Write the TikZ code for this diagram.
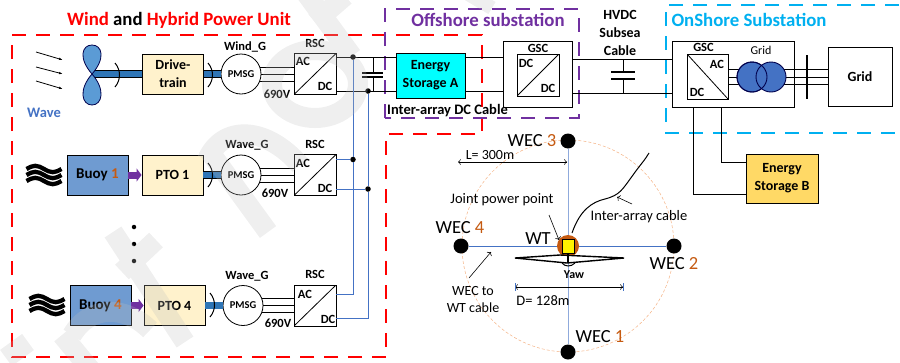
\documentclass[tikz,border=0pt]{standalone}
\usepackage{fontspec}
\setmainfont{Carlito}
\usetikzlibrary{positioning,arrows.meta,calc}
\definecolor{wmark}{HTML}{BFBFBF}
\definecolor{unitred}{HTML}{FF0000}
\definecolor{subpurple}{HTML}{7030A0}
\definecolor{subcyan}{HTML}{00B0F0}
\definecolor{numorange}{HTML}{C55A11}
\definecolor{cablblue}{HTML}{4472C4}
\definecolor{shaftblue}{HTML}{2E75B6}
\definecolor{bladeblue}{HTML}{5B9BD5}
\definecolor{buoyblue}{HTML}{6F9BD1}
\definecolor{ptocream}{HTML}{FFF2CC}
\definecolor{storgold}{HTML}{FFD966}
\definecolor{storcyan}{HTML}{00FFFF}
\definecolor{orbitpeach}{HTML}{F4B183}
\newcommand{\num}[1]{\textcolor{numorange}{#1}}
\begin{document}
\begin{tikzpicture}[x=1pt,y=-1pt,on grid,node distance=20pt,
    lab/.style={font=\fontsize{12.5}{14}\selectfont\bfseries,inner sep=0pt},
    boxlab/.style={font=\fontsize{14}{18}\selectfont\bfseries,align=center},
    big/.style={font=\fontsize{18.8}{20}\selectfont\bfseries,inner sep=0pt},
    wec/.style={font=\fontsize{18.5}{20}\selectfont,inner sep=0pt},
    note/.style={font=\fontsize{14.5}{17}\selectfont,inner sep=0pt,align=center},
    buoy/.style={draw,line width=0.9pt,fill=buoyblue,minimum width=61pt,minimum height=40pt,boxlab},
    pto/.style={draw,line width=0.9pt,fill=ptocream,minimum width=61pt,minimum height=40pt,boxlab},
    pmsg/.style={draw,circle,line width=0.8pt,fill=white,minimum size=40pt,inner sep=0pt,font=\fontsize{10.5}{11}\selectfont\bfseries},
    conv/.style={draw,line width=0.8pt,fill=white,minimum width=42pt,minimum height=41pt},
    convup/.style={conv,path picture={\draw[line width=0.8pt] (path picture bounding box.south west) -- (path picture bounding box.north east);}},
    convdown/.style={conv,path picture={\draw[line width=0.8pt] (path picture bounding box.north west) -- (path picture bounding box.south east);}},
    outer/.style={draw,line width=0.9pt,fill=white,minimum height=66pt},
    jdot/.style={circle,fill=black,minimum size=5.5pt,inner sep=0pt},
    moredot/.style={circle,fill=black,minimum size=4.5pt,inner sep=0pt},
    wecdot/.style={circle,fill=black,minimum size=15pt,inner sep=0pt},
    shaft/.style={draw=black,line width=0.7pt,double=shaftblue,double distance=6.5pt},
    push/.style={draw=subpurple,line width=7pt,-{Triangle[length=5pt,width=13pt]}},
    bus/.style={line width=0.8pt},
    blue cable/.style={draw=cablblue,line width=0.9pt},
    wind/.style={line width=0.8pt,-{Latex[length=4pt,width=2.5pt]}},
    dim/.style={<->,line width=0.5pt},
    blade/.style={draw=black!70!blue,line width=0.8pt,fill=bladeblue},
    transf/.style={draw=black!70!blue,circle,line width=0.9pt,fill=cablblue,minimum size=30pt,inner sep=0pt},
    wm/.style={draw=wmark,line width=20pt},
    waves/.pic={\foreach \yy in {-6,0,6}
        \draw[line width=4.3pt] (-17.5,\yy) sin (-8.75,\yy-3.2) cos (0,\yy) sin (8.75,\yy+3.2) cos (17.5,\yy);},
    turn/.pic={\draw[line width=1pt] (-5,-12) .. controls (1,-5) and (1,5) .. (-5,12);}
]
\useasboundingbox (0,0) rectangle (900,362);
% dashed regions
\draw[unitred,line width=1.5pt,dash pattern=on 14pt off 10pt]
    (12,35) -- (482,35) -- (482,134) -- (386,134) -- (386,357) -- (12,357) -- cycle;
\draw[subpurple,line width=1.3pt,dash pattern=on 14pt off 10pt]
    (385,118) -- (385,9) -- (579,9) -- (579,118) -- cycle;
\draw[subcyan,line width=1.5pt,dash pattern=on 14pt off 10pt]
    (899,5) -- (666,5) -- (666,133) -- (899,133);
\node[big] (unittitle) at (179,20) {\textcolor{unitred}{Wind} and \textcolor{unitred}{Hybrid Power Unit}};
\node[big,text=subpurple] (offtitle) at (488,20) {Offshore substation};
\node[big,text=subcyan] (ontitle) at (749,20) {OnShore Substation};
\node[lab,font=\fontsize{14.5}{16}\selectfont\bfseries,text=cablblue] (wavelab) at (44,113) {Wave};

% wind row
\coordinate (hub) at (92,74);
\node[pto,minimum height=40pt] (drive) at (173,74) {Drive-\\train};
\node[pmsg,right=68pt of drive] (windg) {PMSG};
\node[convup,right=74pt of windg] (windrsc) {};
\draw[shaft] (hub) -- (drive);
\draw[shaft] (drive) -- (windg);
\draw[blade] (hub) .. controls (78,58) and (82,45) .. (92,45) .. controls (102,45) and (106,58) .. (hub);
\draw[blade] (hub) .. controls (78,90) and (82,105) .. (92,105) .. controls (102,105) and (106,90) .. (hub);
\draw[wind] (36,52) -- (63,60);
\draw[wind] (36,67) -- (63,74);
\draw[wind] (36,81) -- (63,89);
\pic at (120,75) {turn};
\pic at (213,75) {turn};
\node[lab,above right=27pt and 4pt of windg] (windname) {Wind\_G};
\node[lab,above=31pt of windrsc] (rsca) {RSC};
\node[lab,above left=12.5pt and 12pt of windrsc] (aca) {AC};
\node[lab,below right=12.5pt and 10pt of windrsc] (dca) {DC};
\node[lab,below left=20.5pt and 38pt of windrsc] (va) {690V};

% wave row 1
\pic at (44,175) {waves};
\node[buoy] (buoy1) at (97.5,175) {\fontsize{15}{18}\selectfont Buoy \num{1}};
\node[pto,right=75pt of buoy1] (pto1) {PTO 1};
\node[pmsg,right=68.5pt of pto1] (waveg1) {PMSG};
\node[convup,right=74pt of waveg1] (rsc1) {};
\draw[push] (buoy1) -- (pto1);
\draw[shaft] (pto1) -- (waveg1);
\pic at (213,175) {turn};
\node[lab,above right=30pt and 6pt of waveg1] (wname1) {Wave\_G};
\node[lab,above=31pt of rsc1] (rscb) {RSC};
\node[lab,above left=12pt and 12pt of rsc1] (acb) {AC};
\node[lab,below right=13.5pt and 10pt of rsc1] (dcb) {DC};
\node[lab,below left=18pt and 40pt of rsc1] (vb) {690V};

% dots
\node[moredot] (more1) at (134,227) {};
\node[moredot,below=17pt of more1] (more2) {};
\node[moredot,below=17pt of more2] (more3) {};

% wave row 4
\pic at (47,305) {waves};
\node[buoy] (buoy4) at (100.5,305.5) {\fontsize{15}{18}\selectfont Buoy \num{4}};
\node[pto,right=74pt of buoy4] (pto4) {PTO 4};
\node[pmsg,right=68.5pt of pto4] (waveg4) {PMSG};
\node[convup,right=72pt of waveg4] (rsc4) {};
\draw[push] (buoy4) -- (pto4);
\draw[shaft] (pto4) -- (waveg4);
\pic at (215,305) {turn};
\node[lab,above right=29pt and 4pt of waveg4] (wname4) {Wave\_G};
\node[lab,above=31pt of rsc4] (rscc) {RSC};
\node[lab,above left=11pt and 10pt of rsc4] (acc) {AC};
\node[lab,below right=14pt and 13pt of rsc4] (dcc) {DC};
\node[lab,below left=18pt and 37pt of rsc4] (vc) {690V};

% three phase lines
\foreach \gen/\conv in {windg/windrsc,waveg1/rsc1,waveg4/rsc4} {
    \draw[bus] (\gen.20) -- (\gen.20 -| \conv.west);
    \draw[bus] (\gen.east) -- (\gen.east -| \conv.west);
    \draw[bus] (\gen.-20) -- (\gen.-20 -| \conv.west);
}

% storage and converters
\node[draw,line width=1pt,fill=storcyan,minimum width=69pt,minimum height=45pt,boxlab] (storea) at (430.5,75.5) {Energy\\Storage A};
\node[outer,minimum width=69pt] (gscoff) at (537.5,74) {};
\node[convup,minimum width=42pt,minimum height=42pt,line width=1pt] (gscoffin) at (538,75) {};
\node[lab,above=27pt of gscoffin] (gscl) {GSC};
\node[lab,above left=12pt and 12pt of gscoffin] (dcl) {DC};
\node[lab,below right=13pt and 10pt of gscoffin] (dcm) {DC};
\node[boxlab,inner sep=0pt] (hvdc) at (620,33) {HVDC\\Subsea\\Cable};
\node[lab,font=\fontsize{14.5}{16}\selectfont\bfseries] (arraylab) at (447.5,111) {Inter-array DC Cable};

\node[outer,minimum width=122pt] (gscon) at (733,74) {};
\node[convdown,minimum width=41pt,minimum height=45pt] (gsconin) at (707.5,76.5) {};
\node[lab,above=29pt of gsconin,xshift=-4pt] (gscr) {GSC};
\node[lab,above right=12pt and 9.5pt of gsconin] (acr) {AC};
\node[lab,below left=15.5pt and 10.5pt of gsconin] (dcr) {DC};
\node[draw,line width=1pt,minimum width=64pt,minimum height=59pt,fill=white,boxlab] (grid) at (860,76.5) {Grid};
\node[lab,font=\fontsize{12}{13}\selectfont] (gridlab) at (761,50) {Grid};
\node[draw,line width=1pt,fill=storgold,minimum width=72pt,minimum height=49pt,boxlab] (storeb) at (782,178.5) {Energy\\Storage B};

% cables to storage A and HVDC
\coordinate (topa) at ($(storea.west)+(0,-18.5)$);
\coordinate (bota) at ($(storea.west)+(0,15.5)$);
\draw[bus] (windrsc.east |- topa) -- (topa);
\draw[bus] (windrsc.east |- bota) -- (bota);
\node[jdot] (ja) at (353,57) {};
\node[jdot] (jb) at (368,91) {};
\draw[bus] (373,57) -- (373,73);
\draw[bus] (373,77) -- (373,91);
\draw[line width=1.5pt] (362,73) -- (383,73);
\draw[line width=1.5pt] (362,77) -- (383,77);
\draw[bus] (storea.east |- topa) -- (gscoff.west |- topa);
\draw[bus] (storea.east |- bota) -- (gscoff.west |- bota);
\draw[bus] (572,59) -- (672,59);
\draw[bus] (572,93) -- (672,93);
\coordinate (capb) at (623,59);
\draw[bus] (capb) -- (623,72);
\draw[bus] (623,79) -- (623,93);
\draw[line width=1.5pt] (611,72) -- (635,72);
\draw[line width=1.5pt] (611,79) -- (635,79);

% blue collector cables
\node[jdot] (jc) at (353,159.5) {};
\node[jdot] (jd) at (368,189) {};
\draw[blue cable] (ja) -- (jc) -- (353,294) -- (rsc4.east |- 0,294);
\draw[blue cable] (jb) -- (jd) -- (368,318) -- (rsc4.east |- 0,318);
\draw[blue cable] (rsc1.east |- jc) -- (jc);
\draw[blue cable] (rsc1.east |- jd) -- (jd);

% transformer and grid
\foreach \yy in {69,77,84} \draw[bus] (gsconin.east |- 0,\yy) -- (grid.west |- 0,\yy);
\node[transf] (tra) at (752,77) {};
\node[transf] (trb) at (771,77) {};
\draw[draw=black!70!blue,line width=0.9pt] (tra) circle (15);
\draw[line width=1.6pt] (807,55) -- (807,99);
\draw[line width=0.9pt] (693,107) |- (storeb.west |- 0,194);
\draw[line width=0.9pt] (721,107) |- (storeb.west |- 0,162);

% array layout
\coordinate (jp) at (568,246);
\draw[orbitpeach,line width=0.5pt,densely dashed] (jp) circle (106);
\node[wecdot] (wec1) at (568,352) {};
\node[wecdot] (wec2) at (674,246) {};
\node[wecdot] (wec3) at (568,141) {};
\node[wecdot] (wec4) at (461,246) {};
\draw[cablblue!60,line width=1pt] (wec3) -- (wec1);
\draw[cablblue,line width=1pt] (wec4) -- (wec2);
\node[wec] (weclab1) at (600,337) {WEC \num{1}};
\node[wec] (weclab2) at (674,264) {WEC \num{2}};
\node[wec] (weclab3) at (532,141) {WEC \num{3}};
\node[wec] (weclab4) at (460,228) {WEC \num{4}};
\node[wec] (wtlab) at (538,239) {WT};
\node[circle,fill=numorange,minimum size=22pt,inner sep=0pt] (wthub) at (jp) {};
\node[draw,line width=0.9pt,fill=yellow,minimum width=12pt,minimum height=14pt,inner sep=0pt] (nacelle) at (568,246) {};
\draw[line width=1.4pt,fill=white] (515,258) -- (560,255) -- (624,258) -- (567,263) -- cycle;
\draw[line width=2.6pt] (nacelle.south) -- (568,263);
\draw[line width=1pt] (562,263) .. controls (565,267) and (571,267) .. (575,263);
\node[lab,font=\fontsize{12}{13}\selectfont\bfseries] (yawlab) at (574,275) {Yaw};
\node[note,font=\fontsize{14}{17}\selectfont] (llab) at (490,155) {L= 300m};
\coordinate (lleft) at (458,162);
\coordinate (lright) at (567,162);
\draw[dim] (lleft) -- (lright);
\coordinate (dleft) at (515,287);
\coordinate (dright) at (623,287);
\draw[dim] (dleft) -- (dright);
\draw[cablblue,line width=0.6pt] (515,283) -- (515,291);
\draw[cablblue,line width=0.6pt] (623,283) -- (623,291);
\node[note] (dlab) at (543,301) {D= 128m};
\node[note] (jointlab) at (502,200) {Joint power point};
\draw[->,line width=0.6pt] (549,215) -- (559,240);
\node[note] (cablab) at (639,217) {Inter-array cable};
\draw[->,line width=0.6pt] (632,204) -- (617,197);
\draw[line width=1pt] (572,233) .. controls (580,210) and (592,202) .. (605,199) .. controls (620,195) and (622,190) .. (633,175) .. controls (640,165) and (645,160) .. (649,153);
\node[note,font=\fontsize{14}{17}\selectfont] (wecwt) at (473,300) {WEC to\\WT cable};
\draw[->,line width=0.6pt] (469,278) -- (491,252);

% watermark
\begin{scope}[transparency group,opacity=0.25]
    \draw[wm] (305,-8) -- (352,56);
    \draw[wm] (315,22) -- (345,-4);
    \draw[wm] (315,84) ellipse (43 and 34);
    \draw[wm] (207,148) -- (268,232);
    \draw[wm] (207,160) .. controls (222,125) and (265,125) .. (300,165);
    \draw[wm] (113,232) -- (185,342);
    \draw[wm] (122,272) -- (156,240);
    \draw[wm] (62,335) -- (95,375);
    \draw[wm] (72,335) .. controls (90,305) and (125,305) .. (150,330);
    \draw[wm] (6,358) -- (28,342);
    \draw[wm,line width=14pt] (465,-8) -- (492,8);
\end{scope}
\end{tikzpicture}
\end{document}
